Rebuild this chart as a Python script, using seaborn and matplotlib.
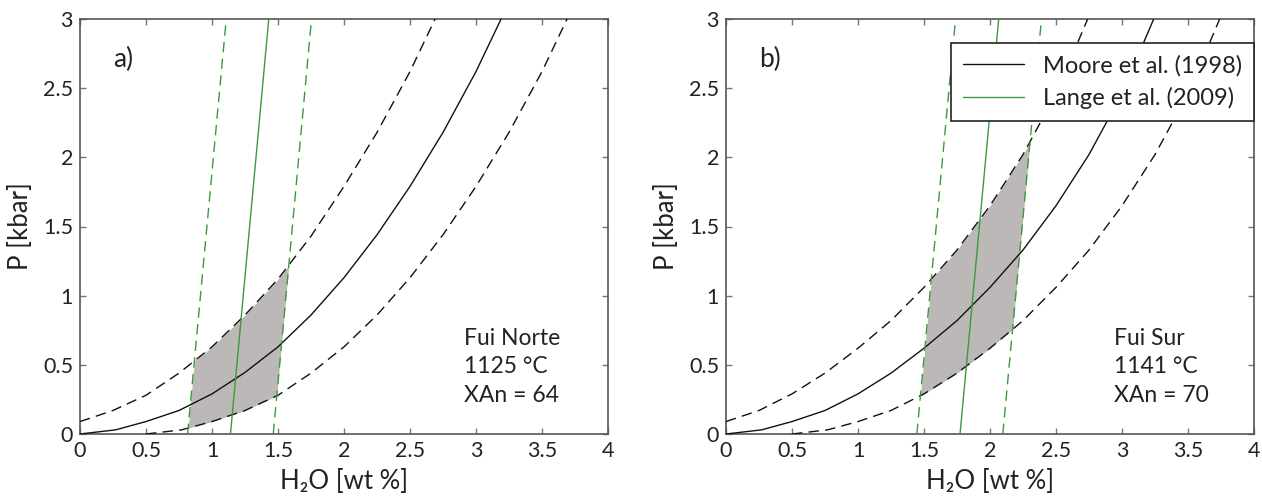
import numpy as np
import matplotlib
matplotlib.use("Agg")
import matplotlib.pyplot as plt
import seaborn as sns
from matplotlib.lines import Line2D

# ---------------- data ----------------
# Panel a) Fui Norte
a_moore_x = [0, 0.27, 0.5, 0.75, 1.0, 1.25, 1.5, 1.75, 2.0, 2.25, 2.5, 2.75, 3.0, 3.19]
a_moore_p = [0, 0.03, 0.09, 0.17, 0.29, 0.445, 0.63, 0.86, 1.13, 1.44, 1.79, 2.18, 2.62, 3.0]
a_upper_x = [0, 0.25, 0.5, 0.75, 1.0, 1.25, 1.5, 1.75, 2.0, 2.25, 2.5, 2.69]
a_upper_p = [0.09, 0.17, 0.28, 0.44, 0.63, 0.86, 1.12, 1.43, 1.79, 2.18, 2.62, 3.0]
a_lower_x = [0.5, 0.77, 1.0, 1.25, 1.5, 1.75, 2.0, 2.25, 2.5, 2.75, 3.0, 3.25, 3.5, 3.69]
a_lower_p = [0, 0.03, 0.09, 0.17, 0.28, 0.44, 0.63, 0.86, 1.13, 1.44, 1.79, 2.18, 2.62, 3.0]
a_lange_p = [0, 3]
a_lange_mid = [1.14, 1.43]
a_lange_left = [0.815, 1.108]
a_lange_right = [1.464, 1.754]

# Panel b) Fui Sur
b_moore_x = [0, 0.27, 0.5, 0.75, 1.0, 1.25, 1.5, 1.75, 2.0, 2.25, 2.5, 2.75, 3.0, 3.24]
b_moore_p = [0, 0.03, 0.09, 0.17, 0.29, 0.44, 0.62, 0.82, 1.06, 1.33, 1.65, 2.02, 2.46, 3.0]
b_upper_x = [0, 0.25, 0.5, 0.75, 1.0, 1.25, 1.5, 1.75, 2.0, 2.25, 2.5, 2.74]
b_upper_p = [0.09, 0.17, 0.29, 0.44, 0.62, 0.82, 1.06, 1.33, 1.65, 2.02, 2.46, 3.0]
b_lower_x = [0.5, 0.77, 1.0, 1.25, 1.5, 1.75, 2.0, 2.25, 2.5, 2.75, 3.0, 3.25, 3.5, 3.74]
b_lower_p = [0, 0.03, 0.09, 0.17, 0.29, 0.44, 0.62, 0.82, 1.06, 1.33, 1.65, 2.02, 2.46, 3.0]
b_lange_p = [0, 3]
b_lange_mid = [1.773, 2.066]
b_lange_left = [1.446, 1.739]
b_lange_right = [2.097, 2.39]

panel_labels = ["a)", "b)"]
sample_text = [["Fui Norte", "1125 °C", "XAn = 64"], ["Fui Sur", "1141 °C", "XAn = 70"]]
legend_labels = ["Moore et al. (1998)", "Lange et al. (2009)"]
xticks = [0, 0.5, 1, 1.5, 2, 2.5, 3, 3.5, 4]
xtick_labels = ["0", "0.5", "1", "1.5", "2", "2.5", "3", "3.5", "4"]
yticks = [0, 0.5, 1, 1.5, 2, 2.5, 3]
ytick_labels = ["0", "0.5", "1", "1.5", "2", "2.5", "3"]

# ---------------- style ----------------
sns.set_theme(style="white")
plt.rcParams["font.family"] = ["Lato", "DejaVu Sans"]

BLACK = "#111111"
GREEN = "#3a9a3a"
FILL = "#bdb8b8"
SPINE = "#555555"
TXT = "#222222"
DASH = (0, (7.5, 4.5))

fig = plt.figure(figsize=(12.62, 4.99), dpi=100)
axes = [fig.add_axes([80 / 1262, 65 / 499, 528 / 1262, 415 / 499]),
        fig.add_axes([726 / 1262, 65 / 499, 528 / 1262, 415 / 499])]

panels = [
    (a_moore_x, a_moore_p, a_upper_x, a_upper_p, a_lower_x, a_lower_p,
     a_lange_p, a_lange_mid, a_lange_left, a_lange_right),
    (b_moore_x, b_moore_p, b_upper_x, b_upper_p, b_lower_x, b_lower_p,
     b_lange_p, b_lange_mid, b_lange_left, b_lange_right),
]
text_x = [2.91, 2.94]


def green_p(x, line_x, line_p):
    # pressure on a straight Lange line for a given H2O
    return np.interp(x, line_x, line_p, left=-1e9, right=1e9)


for i, (ax, pdat) in enumerate(zip(axes, panels)):
    mx, mp, ux, up, lx, lp, gp, gm, gl, gr = pdat

    # shaded region bounded by the dashed curves of both models
    xs = np.linspace(gl[0], gr[1], 600)
    p_high = np.minimum(np.interp(xs, ux, up), green_p(xs, gl, gp))
    p_low = np.maximum(np.interp(xs, lx, lp), green_p(xs, gr, gp))
    ax.fill_between(xs, p_low, p_high, where=p_high > p_low, interpolate=True,
                    color=FILL, linewidth=0, zorder=1)

    # Moore et al. (1998)
    sns.lineplot(x=mx, y=mp, ax=ax, color=BLACK, lw=1.0, sort=False,
                 estimator=None, zorder=3)
    sns.lineplot(x=ux, y=up, ax=ax, color=BLACK, lw=1.0, linestyle=DASH,
                 sort=False, estimator=None, zorder=3)
    sns.lineplot(x=lx, y=lp, ax=ax, color=BLACK, lw=1.0, linestyle=DASH,
                 sort=False, estimator=None, zorder=3)

    # Lange et al. (2009)
    sns.lineplot(x=gm, y=gp, ax=ax, color=GREEN, lw=1.0, sort=False,
                 estimator=None, zorder=4)
    sns.lineplot(x=gl, y=gp, ax=ax, color=GREEN, lw=1.0, linestyle=DASH,
                 sort=False, estimator=None, zorder=4)
    sns.lineplot(x=gr, y=gp, ax=ax, color=GREEN, lw=1.0, linestyle=DASH,
                 sort=False, estimator=None, zorder=4)

    ax.set_xlim(0, 4)
    ax.set_ylim(0, 3)
    ax.set_xticks(xticks)
    ax.set_xticklabels(xtick_labels)
    ax.set_yticks(yticks)
    ax.set_yticklabels(ytick_labels)
    ax.tick_params(direction="in", length=4.5, width=1.0, color="#777777",
                   top=True, right=True, bottom=True, left=True,
                   labelsize=15.5, labelcolor=TXT, pad=5)
    for s in ax.spines.values():
        s.set_visible(True)
        s.set_color(SPINE)
        s.set_linewidth(1.2)

    ax.set_xlabel("H\u2082O [wt %]", fontsize=18.5, color=TXT, labelpad=6)
    ax.set_ylabel("P [kbar]", fontsize=18.5, color=TXT, labelpad=7)

    ax.text(0.25, 2.71, panel_labels[i], fontsize=19, color=TXT,
            ha="left", va="center")
    for j, line in enumerate(sample_text[i]):
        ax.text(text_x[i], 0.69 - j * 0.205, line, fontsize=16.5, color=TXT,
                ha="left", va="center")

# legend in panel b
handles = [Line2D([], [], color=BLACK, lw=1.0), Line2D([], [], color=GREEN, lw=1.0)]
leg = axes[1].legend(handles, legend_labels, loc="upper right",
                     bbox_to_anchor=(1.0, 0.942), fontsize=17, frameon=True,
                     fancybox=False, framealpha=1, edgecolor="#222222",
                     handlelength=2.6, handletextpad=0.8, borderpad=0.5,
                     labelspacing=0.45, borderaxespad=0)
leg.get_frame().set_linewidth(1.2)
for t in leg.get_texts():
    t.set_color(TXT)

fig.savefig("out.png", dpi=100)
